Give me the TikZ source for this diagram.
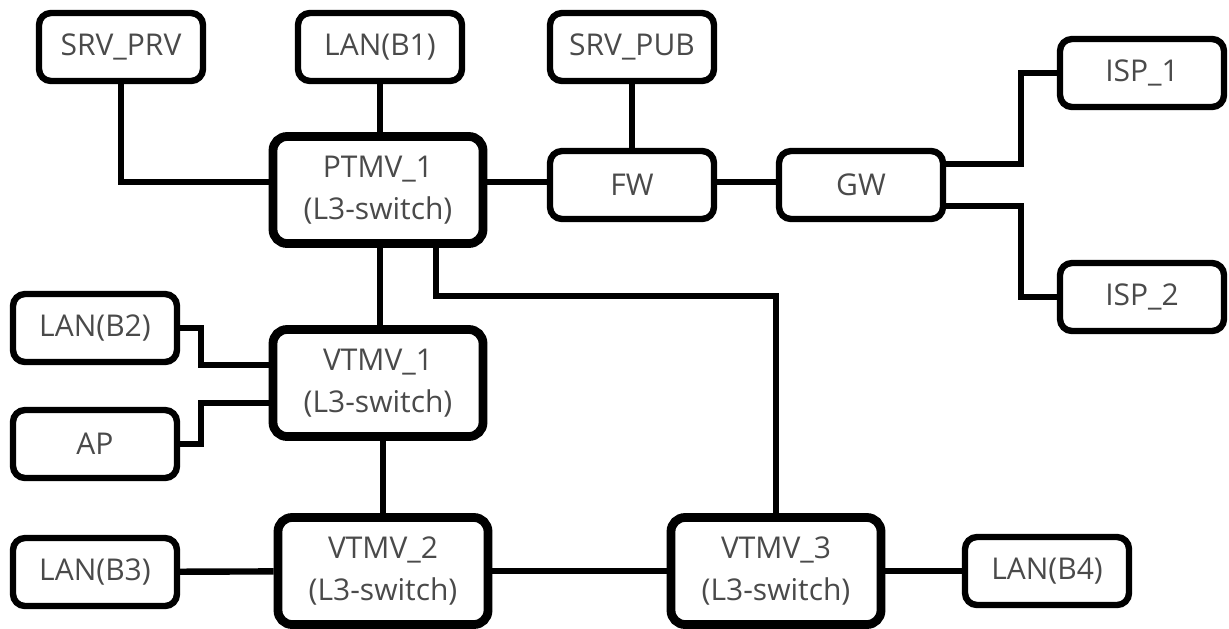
\documentclass[tikz,border=0pt]{standalone}
\usepackage{fontspec}
\setmainfont{Open Sans}
\usepackage{xcolor}
\usetikzlibrary{positioning,calc}

\definecolor{txtgray}{HTML}{4A4A4A}

\begin{document}
\begin{tikzpicture}[
    x=0.5pt, y=-0.5pt,
    device/.style={rectangle, draw, line width=3.2pt, rounded corners=6pt, minimum width=82pt, minimum height=34pt, align=center, text=txtgray, font=\fontsize{15}{21}\selectfont, inner sep=0pt},
    switch/.style={device, line width=4.4pt, rounded corners=7pt, minimum width=105pt, minimum height=53.5pt},
    link/.style={line width=3.2pt}
]
\useasboundingbox (0,0) rectangle (1229,628);
% top row
\node[device] (srvprv) at (121,47) {SRV\_PRV};
\node[device] (lanb1) at (380,47) {LAN(B1)};
\node[device] (srvpub) at (632,47) {SRV\_PUB};
\node[device] (isp1) at (1142,73) {ISP\_1};
% core
\node[switch] (ptmv1) at (378,190) {PTMV\_1\\(L3-switch)};
\node[device] (fw) at (632,185) {FW};
\node[device] (gw) at (861,185) {GW};
\node[device] (isp2) at (1142,297) {ISP\_2};
% access
\node[device] (lanb2) at (95,328) {LAN(B2)};
\node[switch] (vtmv1) at (378,383) {VTMV\_1\\(L3-switch)};
\node[device] (ap) at (95,444) {AP};
\node[device] (lanb3) at (95,572) {LAN(B3)};
\node[switch] (vtmv2) at (383,571) {VTMV\_2\\(L3-switch)};
\node[switch] (vtmv3) at (776,571) {VTMV\_3\\(L3-switch)};
\node[device] (lanb4) at (1047,571) {LAN(B4)};
\coordinate (bend) at (776,296);
% links
\draw[link] (srvprv) |- ([yshift=1.5pt]ptmv1.west |- fw);
\draw[link] (lanb1) -- (lanb1 |- ptmv1.north);
\draw[link] (srvpub) -- (fw);
\draw[link] ([yshift=1.5pt]ptmv1.east |- fw) -- ([yshift=1.5pt]fw.west);
\draw[link] ([yshift=1.5pt]fw.east) -- ([yshift=1.5pt]gw.west);
\draw[link] ([yshift=10.5pt]gw.east) -- ++(37.5pt,0) |- (isp1);
\draw[link] ([yshift=-10.5pt]gw.east) -- ++(37.5pt,0) |- (isp2);
\draw[link] (ptmv1.south -| lanb1) -- (vtmv1.north -| lanb1);
\draw[link] ([xshift=29pt]ptmv1.south) |- (bend) -- (vtmv3);
\draw[link] (lanb2) -- ++(53pt,0) |- ([yshift=9pt]vtmv1.west);
\draw[link] (ap) -- ++(53pt,0) |- ([yshift=-10pt]vtmv1.west);
\draw[link] (vtmv2.north) -- (vtmv2 |- vtmv1.south);
\draw[link] (lanb3) -- (vtmv2);
\draw[link] (vtmv2) -- (vtmv3);
\draw[link] (vtmv3) -- (lanb4);
\end{tikzpicture}
\end{document}
